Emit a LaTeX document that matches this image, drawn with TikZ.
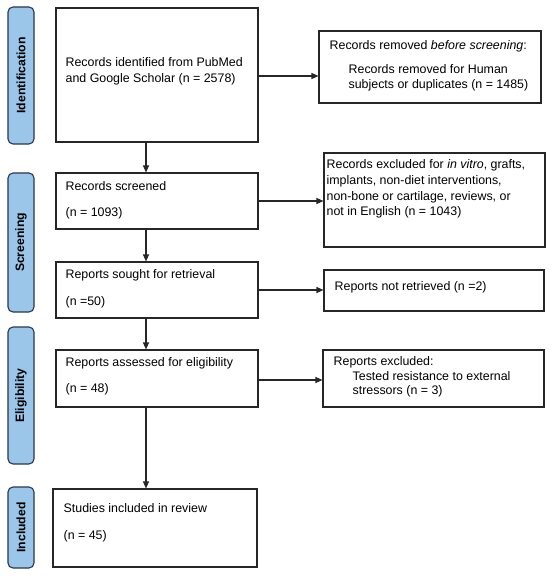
\documentclass[tikz,border=0pt]{standalone}
\usepackage{fontspec}
\setmainfont{Liberation Sans}
\usepackage{xcolor}
\usetikzlibrary{positioning}
\usetikzlibrary{arrows.meta}
\definecolor{barblue}{RGB}{155,198,234}
\definecolor{bardraw}{RGB}{40,55,75}

\begin{document}
\begin{tikzpicture}[x=1bp, y=-1bp,
    box/.style={draw=black!85, line width=1.1bp, inner sep=0pt},
    bar/.style={draw=bardraw, fill=barblue, line width=1.1bp, rounded corners=5bp, inner sep=0pt,
        minimum height=26bp, rotate=90, font=\fontsize{12.2bp}{14bp}\selectfont\bfseries},
    txt/.style={align=left, inner sep=0pt, anchor=base west, font=\fontsize{12.4bp}{16bp}\selectfont},
    arr/.style={-{Triangle[length=7bp,width=6bp]}, line width=1.1bp, black!85}]
			    		\useasboundingbox (0,0) rectangle (550,576);
			    		% stage bars
    					\foreach \name/\lbl/\yc/\h in {idbar/Identification/75.5/137, scbar/Screening/242.5/139,
    					        elbar/Eligibility/395.5/137, inbar/Included/527.5/81}{
    						\node[bar, minimum width=\h bp] (\name) at (21, \yc) {\lbl};
    					}
			    		% main column
			    		\node[box, minimum width=202bp, minimum height=134bp] (ident) at (157, 75) {};
			    		\node[box, minimum width=202bp, minimum height=56bp] (screen) at (157, 201) {};
			    		\node[box, minimum width=202bp, minimum height=56bp] (sought) at (157, 290) {};
			    		\node[box, minimum width=202bp, minimum height=57bp] (assess) at (157, 378.5) {};
			    		\node[box, minimum width=204bp, minimum height=78bp] (incl) at (155, 528) {};
			    		% side column
			    		\node[box, minimum width=222bp, minimum height=72bp] (removed) at (430, 67) {};
			    		\node[box, minimum width=221bp, minimum height=94bp] (excl) at (434.5, 200) {};
			    		\node[box, minimum width=220bp, minimum height=41bp] (notret) at (434, 290.5) {};
			    		\node[box, minimum width=221bp, minimum height=57bp] (repexcl) at (433.5, 378.5) {};
			    		% texts (base = last line)
			    		\node[txt] (identtxt) at ([shift={(10,75.3)}]ident.north west)
			    		    {Records identified from PubMed\\and Google Scholar (n = 2578)};
			    		\node[txt] (screentxt) at ([shift={(10,44.3)}]screen.north west)
			    		    {Records screened\\[10bp](n = 1093)};
			    		\node[txt] (soughttxt) at ([shift={(10,44.3)}]sought.north west)
			    		    {Reports sought for retrieval\\[11bp](n =50)};
			    		\node[txt] (assesstxt) at ([shift={(10,43.3)}]assess.north west)
			    		    {Reports assessed for eligibility\\[10bp](n = 48)};
			    		\node[txt] (incltxt) at ([shift={(11,51.3)}]incl.north west)
			    		    {Studies included in review\\[11bp](n = 45)};
			    		\node[txt] (removedtxt) at ([shift={(11,58.3)}]removed.north west)
			    		    {Records removed \textit{before screening}:\\[8bp]
			    		     \hspace*{19bp}Records removed for Human\\[-1bp]
			    		     \hspace*{19bp}subjects or duplicates (n = 1485)};
			    		\node[txt] (excltxt) at ([shift={(3,63.3)}]excl.north west)
			    		    {Records excluded for \textit{in vitro}, grafts,\\implants, non-diet interventions,\\
			    		     non-bone or cartilage, reviews, or\\[-1bp]not in English (n = 1043)};
			    		\node[txt] (notrettxt) at ([shift={(11,21.3)}]notret.north west)
			    		    {Reports not retrieved (n =2)};
			    		\node[txt] (repexcltxt) at ([shift={(11,45.3)}]repexcl.north west)
			    		    {Reports excluded:\\[-1.5bp]
			    		     \hspace*{19bp}Tested resistance to external\\[-1.5bp]
			    		     \hspace*{19bp}stressors (n = 3)};
			    		% arrows
			    		\coordinate (spine) at (146, 0);
			    		\draw[arr] (ident.south -| spine) -- (screen.north -| spine);
			    		\draw[arr] (screen.south -| spine) -- (sought.north -| spine);
			    		\draw[arr] (sought.south -| spine) -- (assess.north -| spine);
			    		\draw[arr] (assess.south -| spine) -- (incl.north -| spine);
			    		\draw[arr] ([yshift=-1bp]ident.east) -- ([yshift=-1bp]ident.east -| removed.west);
			    		\draw[arr] (screen.east) -- (screen.east -| excl.west);
			    		\draw[arr] (sought.east) -- (sought.east -| notret.west);
			    		\draw[arr] ([yshift=-1.5bp]assess.east) -- ([yshift=-1.5bp]assess.east -| repexcl.west);
\end{tikzpicture}
\end{document}
